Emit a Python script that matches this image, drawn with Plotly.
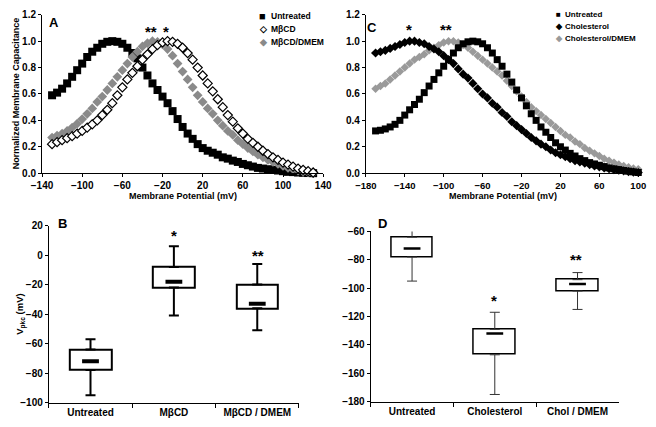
import plotly.graph_objects as go

# ---------------- Panel A data (normalized capacitance) ----------------
vA = list(range(-130, 131, 5))
a_untreated = [0.59, 0.61, 0.64, 0.68, 0.73, 0.78, 0.83, 0.88, 0.92, 0.95, 0.98, 0.995, 1.0, 0.995,
               0.98, 0.95, 0.91, 0.87, 0.80, 0.74, 0.68, 0.63, 0.58, 0.53, 0.47, 0.41, 0.35, 0.30,
               0.26, 0.22, 0.19, 0.17, 0.155, 0.14, 0.12, 0.11, 0.095, 0.085, 0.07, 0.06, 0.05,
               0.04, 0.035, 0.03, 0.025, 0.02, 0.015, 0.01, 0.008, 0.005, 0.003, 0.001, 0.0]
a_mbcd = [0.22, 0.235, 0.25, 0.265, 0.28, 0.30, 0.32, 0.345, 0.37, 0.40, 0.44, 0.48, 0.53, 0.59,
          0.65, 0.71, 0.76, 0.81, 0.86, 0.90, 0.94, 0.97, 0.99, 1.0, 0.995, 0.98, 0.95, 0.91,
          0.86, 0.80, 0.74, 0.68, 0.62, 0.56, 0.50, 0.44, 0.39, 0.34, 0.30, 0.26, 0.23, 0.20,
          0.17, 0.145, 0.12, 0.10, 0.08, 0.065, 0.05, 0.035, 0.025, 0.015, 0.005]
a_mbcd_dmem = [0.27, 0.285, 0.30, 0.32, 0.345, 0.375, 0.41, 0.45, 0.49, 0.54, 0.58, 0.63, 0.68,
               0.73, 0.78, 0.83, 0.88, 0.92, 0.96, 0.985, 1.0, 0.995, 0.975, 0.94, 0.89, 0.83,
               0.77, 0.71, 0.65, 0.59, 0.54, 0.49, 0.45, 0.40, 0.36, 0.32, 0.29, 0.25, 0.22,
               0.19, 0.165, 0.14, 0.12, 0.10, 0.085, 0.07, 0.055, 0.04, 0.03, 0.02, 0.012,
               0.006, 0.0]

# ---------------- Panel C data ----------------
vC = list(range(-170, 101, 5))
c_untreated = [0.32, 0.325, 0.335, 0.35, 0.37, 0.40, 0.44, 0.48, 0.52, 0.56, 0.61, 0.66, 0.71,
               0.76, 0.81, 0.86, 0.91, 0.95, 0.98, 0.995, 1.0, 0.995, 0.98, 0.95, 0.91, 0.86,
               0.81, 0.75, 0.69, 0.63, 0.57, 0.51, 0.45, 0.40, 0.35, 0.31, 0.27, 0.23, 0.20,
               0.175, 0.15, 0.13, 0.11, 0.095, 0.08, 0.07, 0.06, 0.05, 0.04, 0.033, 0.027,
               0.02, 0.015, 0.01, 0.005]
c_chol = [0.91, 0.92, 0.93, 0.945, 0.96, 0.975, 0.99, 1.0, 1.0, 0.99, 0.98, 0.96, 0.94, 0.92,
          0.89, 0.86, 0.83, 0.79, 0.75, 0.72, 0.68, 0.64, 0.60, 0.57, 0.53, 0.50, 0.46, 0.43,
          0.39, 0.36, 0.33, 0.30, 0.27, 0.245, 0.22, 0.20, 0.175, 0.155, 0.14, 0.125, 0.11,
          0.095, 0.085, 0.075, 0.065, 0.055, 0.048, 0.04, 0.033, 0.027, 0.022, 0.017, 0.012,
          0.008, 0.005]
c_chol_dmem = [0.64, 0.66, 0.68, 0.71, 0.74, 0.77, 0.80, 0.83, 0.86, 0.88, 0.90, 0.93, 0.95,
               0.97, 0.99, 1.0, 1.0, 0.99, 0.97, 0.95, 0.92, 0.89, 0.86, 0.83, 0.80, 0.77,
               0.74, 0.70, 0.66, 0.62, 0.58, 0.54, 0.50, 0.47, 0.44, 0.41, 0.38, 0.35, 0.32,
               0.29, 0.27, 0.24, 0.22, 0.19, 0.17, 0.15, 0.13, 0.11, 0.095, 0.08, 0.065,
               0.055, 0.045, 0.035, 0.03]

# ---------------- Panel B box data (Vpkc, mV) ----------------
b_cats = ["Untreated", "MβCD", "MβCD / DMEM"]
b_low = [-95, -41, -51]
b_q1 = [-78, -22, -36]
b_med = [-72, -18, -33]
b_q3 = [-64, -8, -20]
b_high = [-57, 6, -6]

# ---------------- Panel D box data ----------------
d_cats = ["Untreated", "Cholesterol", "Chol / DMEM"]
d_low = [-95, -175, -115]
d_q1 = [-78, -147, -102]
d_med = [-72, -132, -97]
d_q3 = [-64, -129, -94]
d_high = [-57, -117, -89]

W, H = 656, 427
FONT = "Liberation Sans, Arial, sans-serif"
GRAY_A = "#8a8a8a"
GRAY_C = "#9a9a9a"

fig = go.Figure()

# Panel A curves
fig.add_trace(go.Scatter(x=vA, y=a_untreated, mode="markers", xaxis="x", yaxis="y",
                         marker=dict(symbol="square", size=8, color="black"),
                         cliponaxis=False, showlegend=False))
fig.add_trace(go.Scatter(x=vA, y=a_mbcd_dmem, mode="markers", xaxis="x", yaxis="y",
                         marker=dict(symbol="diamond", size=7.5, color=GRAY_A),
                         cliponaxis=False, showlegend=False))
fig.add_trace(go.Scatter(x=vA, y=a_mbcd, mode="markers", xaxis="x", yaxis="y",
                         marker=dict(symbol="diamond", size=7, color="white",
                                     line=dict(color="black", width=1.2)),
                         cliponaxis=False, showlegend=False))

# Panel C curves
fig.add_trace(go.Scatter(x=vC, y=c_chol_dmem, mode="markers", xaxis="x2", yaxis="y2",
                         marker=dict(symbol="diamond", size=6.5, color=GRAY_C),
                         cliponaxis=False, showlegend=False))
fig.add_trace(go.Scatter(x=vC, y=c_untreated, mode="markers", xaxis="x2", yaxis="y2",
                         marker=dict(symbol="square", size=7, color="black"),
                         cliponaxis=False, showlegend=False))
fig.add_trace(go.Scatter(x=vC, y=c_chol, mode="markers", xaxis="x2", yaxis="y2",
                         marker=dict(symbol="diamond", size=7, color="black"),
                         cliponaxis=False, showlegend=False))


def add_boxes(cats, low, q1, med, q3, high, xa, ya, lw, wlw, medw, medlen, wcol):
    heights = [b - a for a, b in zip(q1, q3)]
    fig.add_trace(go.Bar(x=cats, y=heights, base=q1, xaxis=xa, yaxis=ya, width=0.5,
                         marker=dict(color="white", line=dict(color="black", width=lw)),
                         showlegend=False))
    fig.add_trace(go.Scatter(x=cats, y=q3, mode="markers", xaxis=xa, yaxis=ya,
                             marker=dict(size=1, opacity=0),
                             error_y=dict(type="data", symmetric=False,
                                          array=[h - q for h, q in zip(high, q3)],
                                          arrayminus=[0] * len(cats), width=5,
                                          thickness=wlw, color=wcol),
                             cliponaxis=False, showlegend=False))
    fig.add_trace(go.Scatter(x=cats, y=q1, mode="markers", xaxis=xa, yaxis=ya,
                             marker=dict(size=1, opacity=0),
                             error_y=dict(type="data", symmetric=False,
                                          array=[0] * len(cats),
                                          arrayminus=[q - l for q, l in zip(q1, low)], width=5,
                                          thickness=wlw, color=wcol),
                             cliponaxis=False, showlegend=False))
    fig.add_trace(go.Scatter(x=cats, y=med, mode="markers", xaxis=xa, yaxis=ya,
                             marker=dict(symbol="line-ew", size=medlen,
                                         line=dict(color="black", width=medw)),
                             showlegend=False))


add_boxes(b_cats, b_low, b_q1, b_med, b_q3, b_high, "x3", "y3", 2, 2, 4, 12, "black")
add_boxes(d_cats, d_low, d_q1, d_med, d_q3, d_high, "x4", "y4", 1.5, 1, 2.5, 12, "#333333")

tickfont = dict(family=FONT, size=10, color="black", weight="bold")
axis_common = dict(showline=True, linecolor="black", linewidth=1, ticks="outside",
                   ticklen=3, tickwidth=1, tickcolor="black", showgrid=False,
                   zeroline=False, tickfont=tickfont)
axis_c_x = {**axis_common, "tickfont": {**tickfont, "size": 9.5}}


def px(x):
    return x / W


def py(y):
    return 1 - y / H


fig.update_layout(
    width=W, height=H, margin=dict(l=0, r=0, t=0, b=0),
    paper_bgcolor="white", plot_bgcolor="white", showlegend=False, bargap=0,
    xaxis=dict(domain=[px(32), px(322)], range=[-140, 140], tickvals=list(range(-140, 141, 40)),
               anchor="y", **axis_common),
    yaxis=dict(domain=[py(172), py(9)], range=[0, 1.2], tickvals=[0, 0.2, 0.4, 0.6, 0.8, 1.0, 1.2],
               tickformat=".1f", anchor="x", **axis_common),
    xaxis2=dict(domain=[px(366), px(647)], range=[-180, 100], tickvals=list(range(-180, 101, 40)),
                anchor="y2", **axis_c_x),
    yaxis2=dict(domain=[py(172), py(9)], range=[0, 1.2], tickvals=[0, 0.2, 0.4, 0.6, 0.8, 1.0, 1.2],
                tickformat=".1f", anchor="x2", **axis_common),
    xaxis3=dict(domain=[px(39), px(297)], range=[-0.5, 2.5], type="category",
                tickson="boundaries", anchor="y3", **{**axis_common, "ticklen": 4}),
    yaxis3=dict(domain=[py(408), py(226)], range=[-100, 20], tickvals=list(range(-100, 21, 20)),
                anchor="x3", **axis_common),
    xaxis4=dict(domain=[px(371), px(627)], range=[-0.5, 2.5], type="category",
                tickson="boundaries", anchor="y4", **{**axis_common, "ticklen": 4}),
    yaxis4=dict(domain=[py(407), py(232)], range=[-180, -60], tickvals=list(range(-180, -59, 20)),
                anchor="x4", **axis_common),
)

ann = []


def txt(x, y, text, size=9, xanchor="center", yanchor="middle", angle=0, color="black"):
    ann.append(dict(x=px(x), y=py(y), xref="paper", yref="paper", text=text, showarrow=False,
                    xanchor=xanchor, yanchor=yanchor, textangle=angle,
                    font=dict(family=FONT, size=size, color=color, weight="bold")))


# axis titles
txt(177, 195, "Membrane Potential (mV)", 9)
txt(507, 196, "Membrane Potential (mV)", 9)
txt(6, 90, "Normalized Membrane Capacitance", 9, angle=-90)
txt(9, 317, "V<sub>pkc</sub> (mV)", 9.5, angle=-90)

# panel letters
txt(44, 17, "A", 13)
txt(372, 22, "C", 13)
txt(53, 224, "B", 13)
txt(383, 224, "D", 13)

# significance stars
txt(144, 26, "**", 15)
txt(160, 26, "*", 15)
txt(411, 24, "*", 15)
txt(449, 24, "**", 15)
txt(168, 236, "*", 15)
txt(255, 257, "**", 15)
txt(498, 303, "*", 15)
txt(583, 261, "**", 15)

# legends (glyph + label)
txt(259, 10, "■", 11, color="black")
txt(266, 10, "Untreated", 8.5, xanchor="left")
txt(260, 24, "◇", 9, color="black")
txt(266, 24, "MβCD", 8.5, xanchor="left")
txt(260, 37.5, "◆", 9, color=GRAY_A)
txt(266, 37.5, "MβCD/DMEM", 8.5, xanchor="left")

txt(565, 8.5, "■", 8, color="black")
txt(569, 8.5, "Untreated", 8, xanchor="left")
txt(565, 21, "◆", 8, color="black")
txt(569, 21, "Cholesterol", 8, xanchor="left")
txt(565, 33.5, "◆", 8, color=GRAY_C)
txt(569, 33.5, "Cholesterol/DMEM", 8, xanchor="left")

fig.update_layout(annotations=ann)
fig.write_html("out.html", config={"displayModeBar": False},
               post_script="document.body.style.margin='0';document.body.style.overflow='hidden';")
